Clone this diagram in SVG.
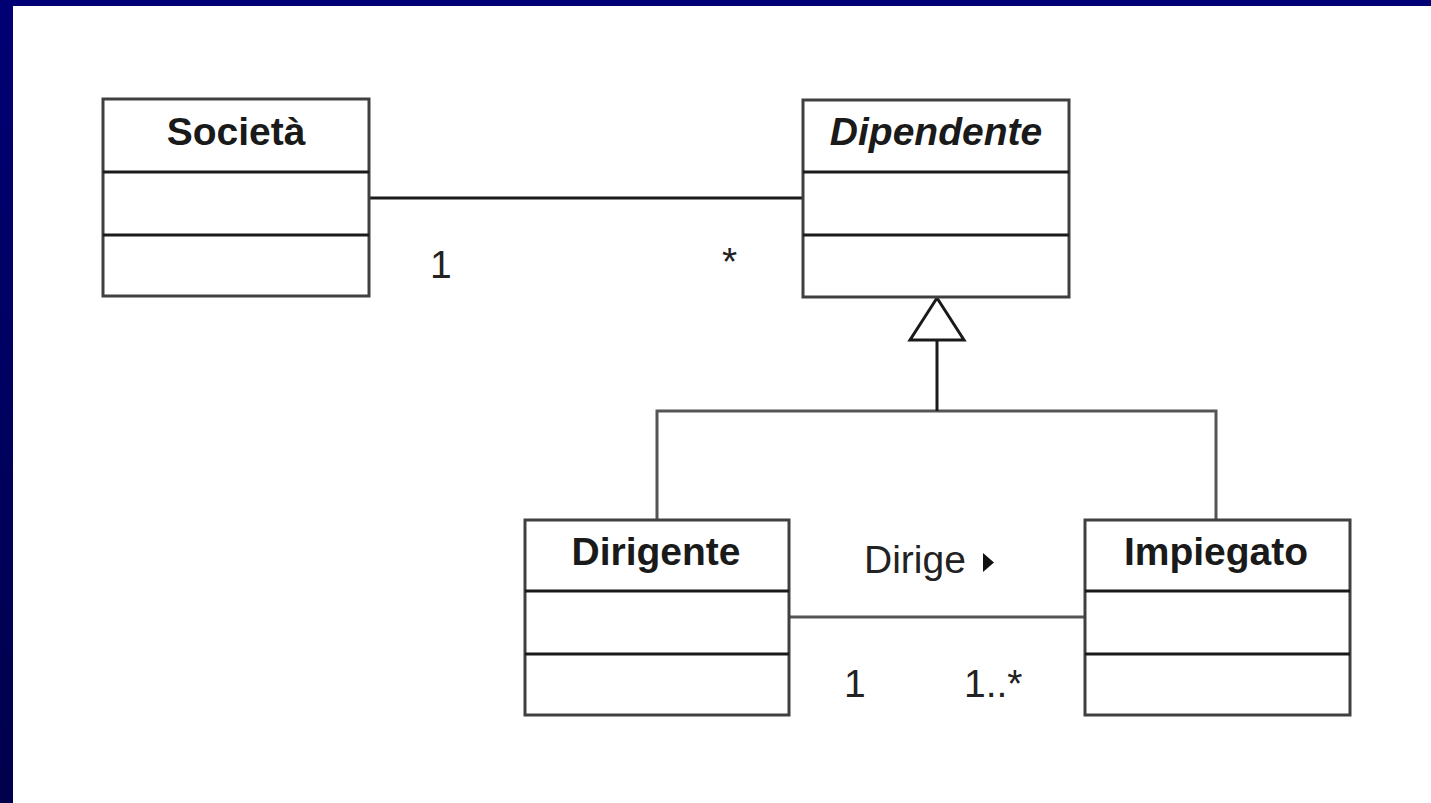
<svg xmlns="http://www.w3.org/2000/svg" width="1431" height="803" viewBox="0 0 1431 803">
  <defs>
    <linearGradient id="navy" x1="0" y1="0" x2="0" y2="1">
      <stop offset="0" stop-color="#000074"/>
      <stop offset="1" stop-color="#00004c"/>
    </linearGradient>
    <style>
      .box { fill: #ffffff; stroke: #404040; stroke-width: 3; }
      .sep { stroke: #1a1a1a; stroke-width: 3; }
      .title { font-family: "Liberation Sans", Arial, sans-serif; font-size: 39px; font-weight: bold; fill: #1a1a1a; text-anchor: middle; }
      .lbl { font-family: "Liberation Sans", Arial, sans-serif; font-size: 39px; fill: #222222; }
      .conn { fill: none; stroke: #1a1a1a; stroke-width: 3; }
      .gen { fill: none; stroke: #555555; stroke-width: 3; }
    </style>
  </defs>
  <rect x="0" y="0" width="1431" height="803" fill="#ffffff"/>
  <rect x="0" y="0" width="1431" height="6" fill="#000074"/>
  <rect x="0" y="0" width="13" height="803" fill="url(#navy)"/>

  <g id="connectors">
    <line class="conn" x1="369" y1="198" x2="803" y2="198"/>
    <polyline class="gen" points="657,520 657,411 1216,411 1216,520"/>
    <line class="conn" x1="937" y1="411" x2="937" y2="340"/>
    <polygon points="937,298 910,340 964,340" fill="#ffffff" stroke="#1a1a1a" stroke-width="3" stroke-linejoin="miter"/>
    <line class="gen" x1="789" y1="617" x2="1085" y2="617"/>
    <text class="lbl" x="430" y="278">1</text>
    <text class="lbl" x="722" y="275">*</text>
    <text class="lbl" x="864" y="573">Dirige</text>
    <polygon points="983,553 994,562.5 983,572" fill="#111111"/>
    <text class="lbl" x="844" y="697">1</text>
    <text class="lbl" x="964" y="697">1..*</text>
  </g>

  <g id="societa">
    <rect class="box" x="103" y="99" width="266" height="197"/>
    <line class="sep" x1="103" y1="172" x2="369" y2="172"/>
    <line class="sep" x1="103" y1="235" x2="369" y2="235"/>
    <text class="title" x="236" y="145">Società</text>
  </g>

  <g id="dipendente">
    <rect class="box" x="803" y="100" width="266" height="197"/>
    <line class="sep" x1="803" y1="172" x2="1069" y2="172"/>
    <line class="sep" x1="803" y1="235" x2="1069" y2="235"/>
    <text class="title" x="936" y="145" font-style="italic">Dipendente</text>
  </g>

  <g id="dirigente">
    <rect class="box" x="525" y="520" width="264" height="195"/>
    <line class="sep" x1="525" y1="591" x2="789" y2="591"/>
    <line class="sep" x1="525" y1="654" x2="789" y2="654"/>
    <text class="title" x="656" y="565">Dirigente</text>
  </g>

  <g id="impiegato">
    <rect class="box" x="1085" y="520" width="265" height="195"/>
    <line class="sep" x1="1085" y1="591" x2="1350" y2="591"/>
    <line class="sep" x1="1085" y1="654" x2="1350" y2="654"/>
    <text class="title" x="1216" y="565">Impiegato</text>
  </g>
</svg>
